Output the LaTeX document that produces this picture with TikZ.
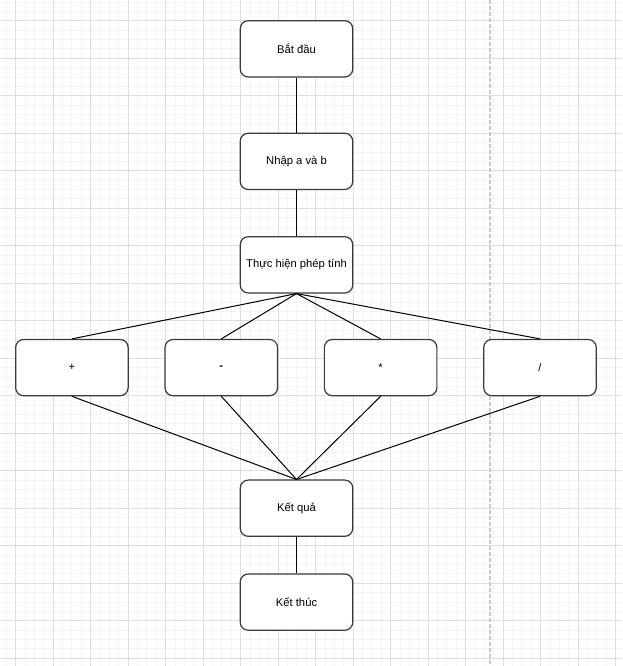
\documentclass[tikz,border=0pt]{standalone}
\usepackage{fontspec}
\setmainfont{Liberation Sans}
\usetikzlibrary{positioning}
\definecolor{gridminor}{HTML}{F4F4F4}
\definecolor{gridmajor}{HTML}{DEDEDE}
\definecolor{boxline}{HTML}{3A3A3A}
\definecolor{dashgrey}{HTML}{C8C8C8}

\begin{document}
\begin{tikzpicture}[x=1pt,y=-1pt,
            block/.style={draw=boxline,line width=1.2pt,rounded corners=8pt,fill=white,
              minimum width=112.5pt,minimum height=56.25pt,inner sep=0pt,align=center,
              font=\fontsize{11.25}{13}\selectfont},
            minorline/.style={gridminor,line width=0.8pt},
            majorline/.style={gridmajor,line width=1pt},
            every edge/.style={draw,black,line width=1pt}
          ]
          \useasboundingbox (0,0) rectangle (622,666);
          \fill[white] (0,0) rectangle (622,666);

          %grid
          \foreach \i in {-1,...,64}
            \draw[minorline] (15.6+\i*9.375,0) -- (15.6+\i*9.375,666);
          \foreach \i in {-2,...,68}
            \draw[minorline] (0,20.7+\i*9.375) -- (622,20.7+\i*9.375);
          \foreach \i in {0,...,16}
            \draw[majorline] (15.6+\i*37.5,0) -- (15.6+\i*37.5,666);
          \foreach \i in {0,...,17}
            \draw[majorline] (0,20.7+\i*37.5) -- (622,20.7+\i*37.5);
          \draw[dashgrey,line width=1.6pt,dash pattern=on 4pt off 2pt] (490,0) -- (490,666);

          %steps
          \node[block] (batdau) at (296.5,48.85) {Bắt đầu};
          \node[block,below of=batdau,node distance=112.5pt] (nhap) {Nhập a và b};
          \node[block,below of=nhap,node distance=103.5pt] (thuchien) {Thực hiện phép tính};

          %operators
          \node[block] (cong) at (71.9,367.6) {+};
          \node[block,right of=cong,node distance=149.4pt] (tru) {\textbf{-}};
          \node[block,right of=tru,node distance=159.3pt] (nhan) {*};
          \node[block,right of=nhan,node distance=159.4pt] (chia) {/};

          %result
          \node[block] (ketqua) at (296.5,508.2) {Kết quả};
          \node[block,below of=ketqua,node distance=93.9pt] (ketthuc) {Kết thúc};

          \path
          (batdau) edge (nhap)
          (nhap) edge (thuchien)
          (thuchien.south) edge (cong.north)
          (thuchien.south) edge (tru.north)
          (thuchien.south) edge (nhan.north)
          (thuchien.south) edge (chia.north)
          (cong.south) edge (ketqua.north)
          (tru.south) edge (ketqua.north)
          (nhan.south) edge (ketqua.north)
          (chia.south) edge (ketqua.north)
          (ketqua) edge (ketthuc)
          ;

      \end{tikzpicture}
\end{document}
